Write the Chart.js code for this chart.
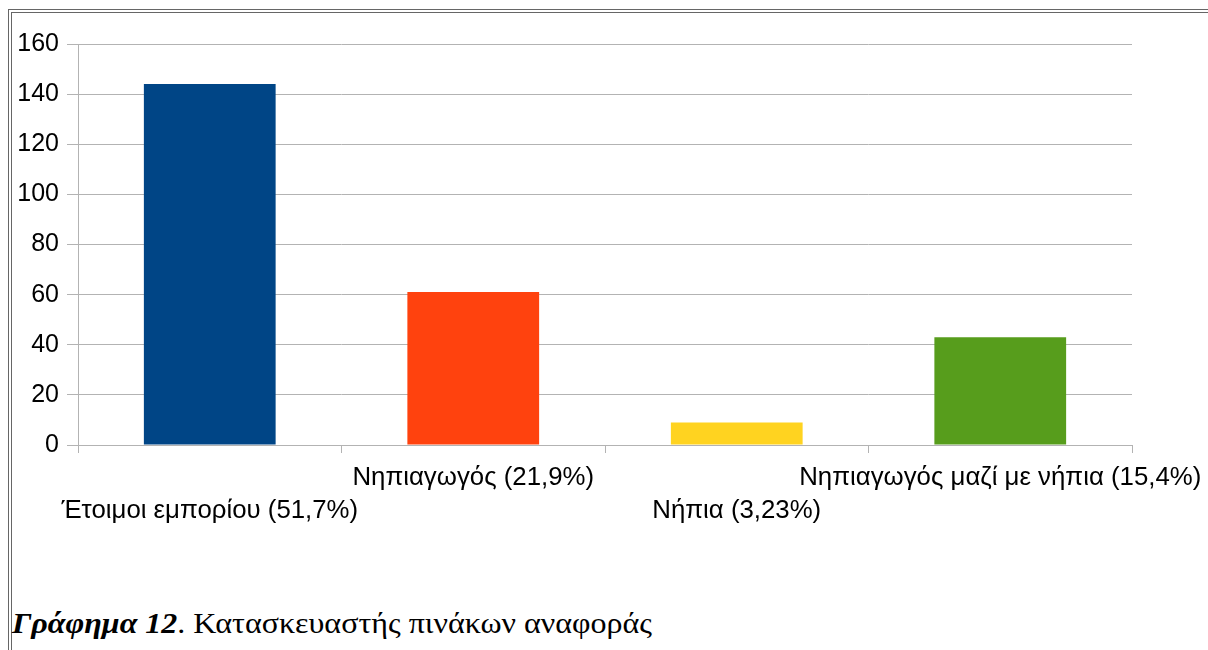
<!DOCTYPE html>
<html>
<head>
<meta charset="utf-8">
<script src="https://cdn.jsdelivr.net/npm/chart.js@4"></script>
<style>
  html, body { margin: 0; padding: 0; background: #fff; }
  body { width: 1208px; height: 650px; position: relative; overflow: hidden; }
  #frame {
    position: absolute; left: 8px; top: 9px; right: -10px; bottom: -10px;
    border-top: 4px double #666; border-left: 4px double #666;
  }
  #wrap { position: absolute; left: 0; top: 0; width: 1208px; height: 540px; }
  #caption {
    position: absolute; left: 12px; top: 606px;
    font-family: "Liberation Serif", "DejaVu Serif", serif; font-size: 30px; color: #000;
    white-space: nowrap; transform: scaleX(1.067); transform-origin: 0 0;
  }
  #caption b { font-style: italic; font-weight: 900; }
</style>
</head>
<body>
<div id="frame"></div>
<div id="wrap"><canvas id="chart"></canvas></div>
<div id="caption"><b>Γράφημα 12</b>. Κατασκευαστής πινάκων αναφοράς</div>
<script>
// values
const categories = [
  'Έτοιμοι εμπορίου (51,7%)',
  'Νηπιαγωγός (21,9%)',
  'Νήπια (3,23%)',
  'Νηπιαγωγός μαζί με νήπια (15,4%)'
];
const counts = [144, 61, 9, 43];
const barColors = ['#004586', '#ff420e', '#ffd320', '#579d1c'];
const yTicks = [0, 20, 40, 60, 80, 100, 120, 140, 160];

const gridColor = '#b3b3b3';
const font = { family: '"Liberation Sans", Arial, sans-serif', size: 25 };

// every other category label drops to a second line, like the original
const staggered = categories.map((c, i) => (i % 2 === 0 ? ['', c] : [c]));

new Chart(document.getElementById('chart'), {
  type: 'bar',
  data: {
    labels: staggered,
    datasets: [{
      data: counts,
      backgroundColor: barColors,
      borderWidth: 0,
      categoryPercentage: 1,
      barPercentage: 0.5
    }]
  },
  options: {
    responsive: true,
    maintainAspectRatio: false,
    animation: false,
    layout: { padding: { left: 12, right: 76, top: 44, bottom: 0 } },
    plugins: { legend: { display: false }, tooltip: { enabled: false } },
    scales: {
      x: {
        offset: true,
        grid: {
          offset: true,
          color: (ctx) => (ctx.index === 0 || ctx.index === categories.length ? gridColor : 'rgba(0,0,0,0)'),
          tickColor: gridColor,
          tickLength: 8,
          lineWidth: 1
        },
        border: { display: false },
        ticks: {
          color: '#000',
          font: { ...font, size: 25.8, lineHeight: 1.3 },
          autoSkip: false,
          maxRotation: 0,
          padding: 8
        },
        afterFit: (scale) => {
          scale.height = 95;
          // labels may hang past the plot edges, as in the original
          scale.paddingLeft = 0;
          scale.paddingRight = 0;
        }
      },
      y: {
        min: 0,
        max: 160,
        afterBuildTicks: (scale) => { scale.ticks = yTicks.map(v => ({ value: v })); },
        grid: { color: gridColor, tickLength: 11, lineWidth: 1 },
        border: { display: false },
        ticks: { color: '#000', font, padding: 8 },
        afterFit: (scale) => { scale.width = 66; }
      }
    }
  }
});
</script>
</body>
</html>
